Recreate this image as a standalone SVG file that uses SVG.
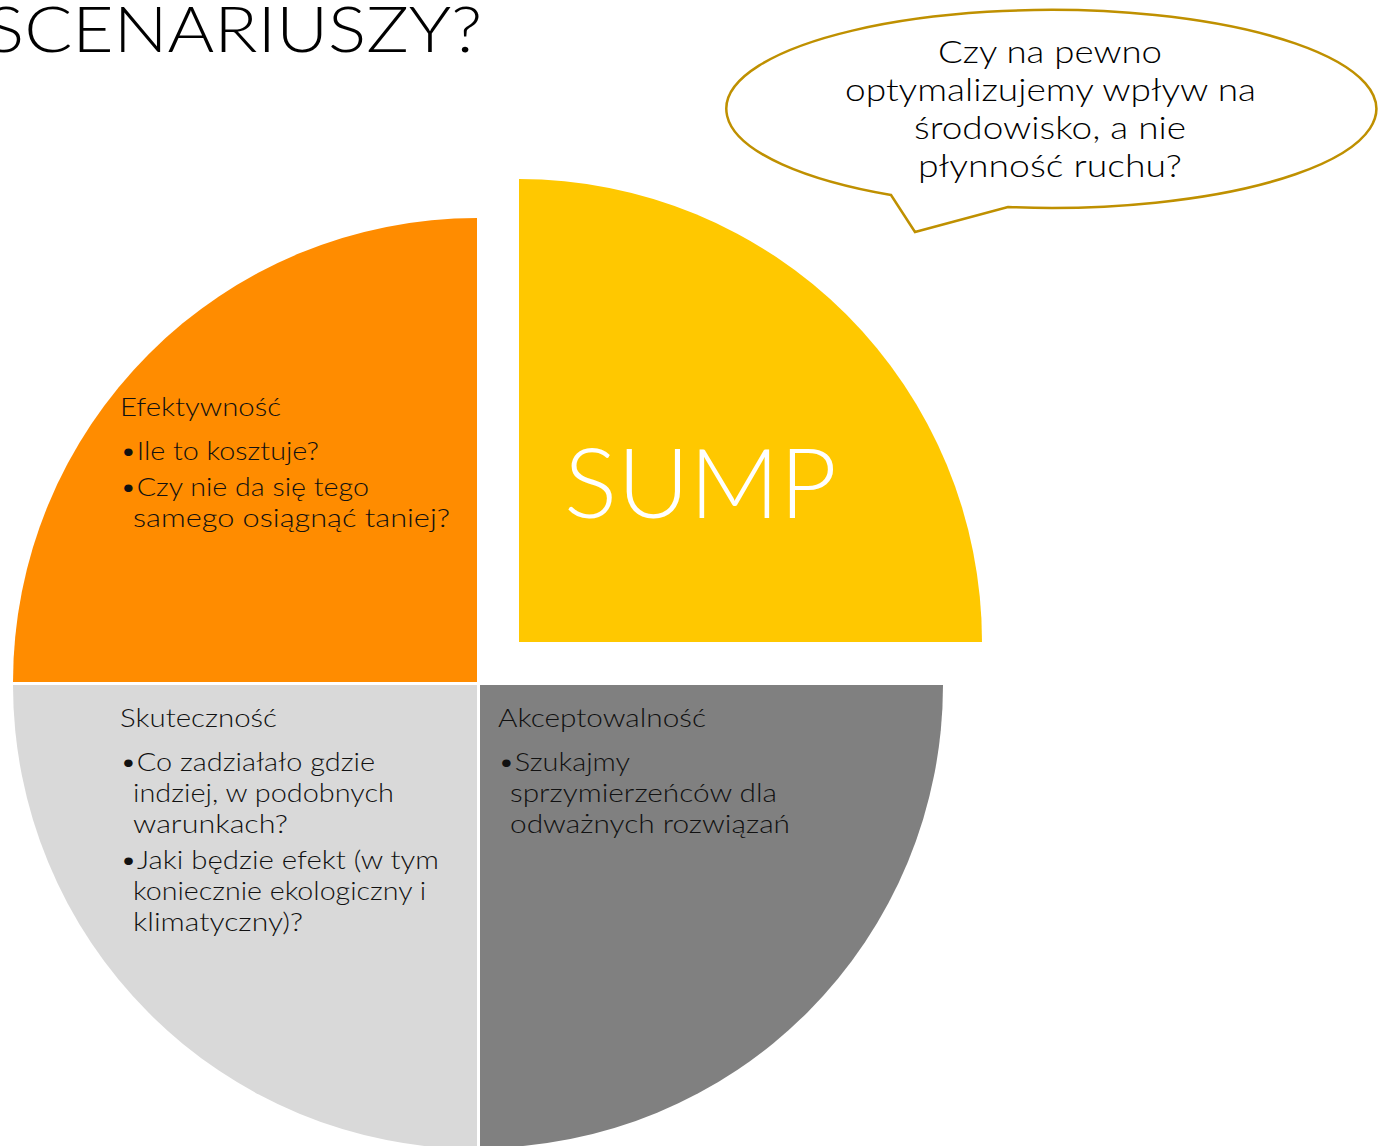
<svg xmlns="http://www.w3.org/2000/svg" width="1382" height="1146" viewBox="0 0 1382 1146">
<style>
.t{font-family:Lato,"Noto Sans",sans-serif;font-weight:300;fill:#111;font-size:26px}
.b{font-family:Lato,"Noto Sans",sans-serif;font-weight:300;fill:#000;font-size:31px}
</style>
<rect width="1382" height="1146" fill="#fff"/>
<text x="-14" y="52" font-family="Lato,'Noto Sans',sans-serif" font-weight="300" font-size="64" fill="#000" textLength="496" lengthAdjust="spacingAndGlyphs">SCENARIUSZY?</text>
<g id="efektywnosc">
<path d="M477,682 L13,682 A464,464 0 0 1 477,218 Z" fill="#FF8C00"/>
<text class="t" x="120" y="416" textLength="161" lengthAdjust="spacingAndGlyphs">Efektywność</text>
<text class="t" x="120" y="460" textLength="199" lengthAdjust="spacingAndGlyphs">•Ile to kosztuje?</text>
<text class="t" x="120" y="496" textLength="249" lengthAdjust="spacingAndGlyphs">•Czy nie da się tego</text>
<text class="t" x="133" y="527" textLength="317" lengthAdjust="spacingAndGlyphs">samego osiągnąć taniej?</text>
</g>
<g id="sump">
<path d="M519,642 L519,179 A463,463 0 0 1 982,642 Z" fill="#FFC800"/>
<text x="564" y="518" font-family="Lato,'Noto Sans',sans-serif" font-weight="300" font-size="96" fill="#fff" textLength="273" lengthAdjust="spacingAndGlyphs">SUMP</text>
</g>
<g id="skutecznosc">
<path d="M477,685 L477,1149 A464,464 0 0 1 13,685 Z" fill="#D9D9D9"/>
<text class="t" x="120" y="727" textLength="157" lengthAdjust="spacingAndGlyphs">Skuteczność</text>
<text class="t" x="120" y="771" textLength="255" lengthAdjust="spacingAndGlyphs">•Co zadziałało gdzie</text>
<text class="t" x="133" y="802" textLength="261" lengthAdjust="spacingAndGlyphs">indziej, w podobnych</text>
<text class="t" x="133" y="833" textLength="155" lengthAdjust="spacingAndGlyphs">warunkach?</text>
<text class="t" x="120" y="869" textLength="319" lengthAdjust="spacingAndGlyphs">•Jaki będzie efekt (w tym</text>
<text class="t" x="133" y="900" textLength="293" lengthAdjust="spacingAndGlyphs">koniecznie ekologiczny i</text>
<text class="t" x="133" y="931" textLength="170" lengthAdjust="spacingAndGlyphs">klimatyczny)?</text>
</g>
<g id="akceptowalnosc">
<path d="M480,685 L943,685 A463,463 0 0 1 480,1148 Z" fill="#808080"/>
<text class="t" x="498" y="727" textLength="208" lengthAdjust="spacingAndGlyphs">Akceptowalność</text>
<text class="t" x="498" y="771" textLength="132" lengthAdjust="spacingAndGlyphs">•Szukajmy</text>
<text class="t" x="510" y="802" textLength="267" lengthAdjust="spacingAndGlyphs">sprzymierzeńców dla</text>
<text class="t" x="510" y="833" textLength="280" lengthAdjust="spacingAndGlyphs">odważnych rozwiązań</text>
</g>
<g id="bubble">
<path d="M891,195 L915,232 L1008,207 A325,99 0 1 0 891,195 Z" fill="#fff" stroke="#BF9000" stroke-width="2.5" stroke-linejoin="miter"/>
<text class="b" x="938" y="63" textLength="224" lengthAdjust="spacingAndGlyphs">Czy na pewno</text>
<text class="b" x="845" y="101" textLength="411" lengthAdjust="spacingAndGlyphs">optymalizujemy wpływ na</text>
<text class="b" x="914" y="139" textLength="272" lengthAdjust="spacingAndGlyphs">środowisko, a nie</text>
<text class="b" x="918" y="177" textLength="264" lengthAdjust="spacingAndGlyphs">płynność ruchu?</text>
</g>
<g id="connectors"></g>
</svg>
